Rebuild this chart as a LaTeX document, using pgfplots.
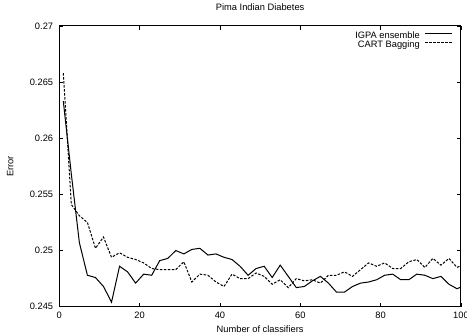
\documentclass[border=0pt]{standalone}
\usepackage{fontspec}
\setmainfont{Liberation Sans}
\usepackage{pgfplots}
\pgfplotsset{compat=1.18}
\newcommand{\fs}{\fontsize{9.3}{11}\selectfont}
\begin{document}
\begin{tikzpicture}
\begin{axis}[
  name=ax,
  scale only axis,
  width=401.7pt, height=280.7pt,
  xmin=0, xmax=100, ymin=0.245, ymax=0.27,
  xtick={0,20,40,60,80,100},
  ytick={0.245,0.25,0.255,0.26,0.265,0.27},
  yticklabels={0.245,0.25,0.255,0.26,0.265,0.27},
  scaled y ticks=false,
  tick align=inside,
  major tick length=4pt,
  minor tick num=0,
  axis line style={line width=1pt},
  every tick/.style={line width=0.8pt, black},
  /pgf/number format/assume math mode=true,
  tick label style={font=\fs},
  xticklabel style={anchor=base, yshift=-11.6pt},
  yticklabel style={anchor=east, inner sep=0pt, xshift=-6pt},
  title={Pima Indian Diabetes},
  title style={font=\fs, at={(rel axis cs:0.5,1.0331)}, anchor=base, inner sep=0pt},
  xlabel={Number of classifiers},
  xlabel style={font=\fs, at={(rel axis cs:0.5,-0.0937)}, anchor=base, inner sep=0pt},
  ylabel={Error},
  ylabel style={font=\fs, at={(rel axis cs:-0.1145,0.5)}, anchor=base, inner sep=0pt},
  legend plot pos=right,
  legend cell align=right,
  legend style={draw=none, fill=none, font=\fs, at={(rel axis cs:1,1)}, anchor=north east,
    xshift=-8pt, yshift=-5.6pt, inner sep=0pt, row sep=0pt,
    nodes={inner sep=0pt, text height=6.7pt, text depth=2.6pt}},
  legend image code/.code={\path[draw=none,fill=none] (0pt,0pt) -- (32.5pt,0pt); \draw[#1] (5.5pt,3.4pt) -- (32.5pt,3.4pt);},
]
\addplot[black, line width=1pt] coordinates {
(1,0.2633)(3,0.2568)(5,0.2507)(7,0.2478)(9,0.2476)(11,0.2468)(13,0.2454)(15,0.2486)
(17,0.2481)(19,0.2471)(21,0.2479)(23,0.2478)(25,0.2491)(27,0.2493)(29,0.2500)(31,0.2497)
(33,0.2501)(35,0.2502)(37,0.2496)(39,0.2497)(41,0.2494)(43,0.2492)(45,0.2486)(47,0.2478)
(49,0.2484)(51,0.2486)(53,0.2476)(55,0.2487)(57,0.2477)(59,0.2467)(61,0.2468)(63,0.2473)
(65,0.2477)(67,0.2471)(69,0.2463)(71,0.2463)(73,0.2468)(75,0.2471)(77,0.2472)(79,0.2474)
(81,0.2478)(83,0.2479)(85,0.2474)(87,0.2474)(89,0.2479)(91,0.2478)(93,0.2475)(95,0.2477)
(97,0.2470)(99,0.2466)(101,0.2469)
};
\addlegendentry{IGPA ensemble}
\addplot[black, line width=1pt, dash pattern=on 2.5pt off 1.5pt] coordinates {
(1,0.2658)(3,0.2541)(5,0.2531)(7,0.2525)(9,0.2502)(11,0.2512)(13,0.2494)(15,0.2498)
(17,0.2494)(19,0.2492)(21,0.2489)(23,0.2484)(25,0.2483)(27,0.2483)(29,0.2483)(31,0.2490)
(33,0.2472)(35,0.2479)(37,0.2478)(39,0.2472)(41,0.2468)(43,0.2479)(45,0.2475)(47,0.2475)
(49,0.2480)(51,0.2477)(53,0.2470)(55,0.2474)(57,0.2467)(59,0.2475)(61,0.2473)(63,0.2474)
(65,0.2471)(67,0.2478)(69,0.2478)(71,0.2481)(73,0.2477)(75,0.2483)(77,0.2489)(79,0.2486)
(81,0.2489)(83,0.2484)(85,0.2484)(87,0.2490)(89,0.2492)(91,0.2485)(93,0.2493)(95,0.2487)
(97,0.2493)(99,0.2485)(101,0.2488)
};
\addlegendentry{CART Bagging}
\end{axis}
\pgfresetboundingbox
\useasboundingbox ([xshift=-59.3pt,yshift=-29.3pt]ax.south west) rectangle ([xshift=6pt,yshift=26pt]ax.north east);
\end{tikzpicture}
\end{document}
